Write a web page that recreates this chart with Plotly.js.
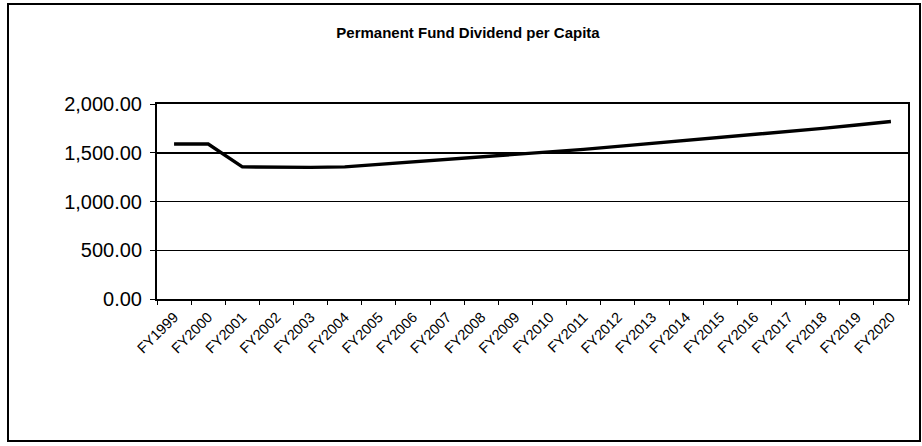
<!DOCTYPE html>
<html>
<head>
<meta charset="utf-8">
<script src="https://cdn.plot.ly/plotly-3.0.1.min.js"></script>
<style>
  html, body { margin: 0; padding: 0; background: #ffffff; }
  #chart { width: 922px; height: 446px; }
</style>
</head>
<body>
<div id="chart"></div>
<script>
// Chart data
const fiscalYears = ["FY1999","FY2000","FY2001","FY2002","FY2003","FY2004","FY2005","FY2006",
  "FY2007","FY2008","FY2009","FY2010","FY2011","FY2012","FY2013","FY2014","FY2015","FY2016",
  "FY2017","FY2018","FY2019","FY2020"];
const dividendPerCapita = [1590, 1590, 1355, 1350, 1350, 1355, 1380, 1405, 1430, 1455, 1480,
  1505, 1535, 1565, 1595, 1625, 1655, 1685, 1715, 1750, 1785, 1820];
const chartTitle = "Permanent Fund Dividend per Capita";
const yTickValues = [0, 500, 1000, 1500, 2000];

const trace = {
  type: "scatter",
  mode: "lines",
  x: fiscalYears,
  y: dividendPerCapita,
  line: { color: "#000000", width: 3.4 },
  hoverinfo: "x+y"
};

const layout = {
  width: 922,
  height: 446,
  paper_bgcolor: "#ffffff",
  plot_bgcolor: "#ffffff",
  margin: { l: 157, r: 14, t: 104, b: 147 },
  showlegend: false,
  font: { family: "Arial, 'Liberation Sans', sans-serif", color: "#000000" },
  title: {
    text: "<b>" + chartTitle + "</b>",
    font: { size: 15, color: "#000000", family: "Arial, 'Liberation Sans', sans-serif" },
    x: 468 / 922, xanchor: "center",
    y: 1 - 33 / 446, yanchor: "middle",
    xref: "container", yref: "container"
  },
  xaxis: {
    type: "category",
    range: [-0.5, fiscalYears.length - 0.5],
    tickangle: -45,
    tickfont: { size: 14.5, color: "#000000" },
    ticks: "outside",
    tickson: "boundaries",
    ticklen: 4,
    tickwidth: 1,
    tickcolor: "#000000",
    ticklabelstandoff: 2,
    showline: true,
    linecolor: "#000000",
    linewidth: 2,
    mirror: true,
    showgrid: false,
    zeroline: false,
    fixedrange: true
  },
  yaxis: {
    range: [0, 2000],
    tickvals: yTickValues,
    tickformat: ",.2f",
    tickfont: { size: 20, color: "#000000" },
    ticks: "outside",
    ticklen: 5,
    tickwidth: 1,
    tickcolor: "#000000",
    ticklabelstandoff: 4,
    showline: true,
    linecolor: "#000000",
    linewidth: 2,
    mirror: true,
    showgrid: true,
    gridcolor: "#000000",
    gridwidth: 1.5,
    zeroline: false,
    fixedrange: true
  },
  shapes: [
    {
      type: "rect",
      xref: "paper", yref: "paper",
      x0: (8 - 157) / 751, x1: (920 - 157) / 751,
      y0: (299 - 441) / 195, y1: (299 - 4) / 195,
      line: { color: "#000000", width: 2 },
      fillcolor: "rgba(0,0,0,0)",
      layer: "below"
    }
  ]
};

Plotly.newPlot("chart", [trace], layout, { displayModeBar: false, staticPlot: true });
</script>
</body>
</html>
